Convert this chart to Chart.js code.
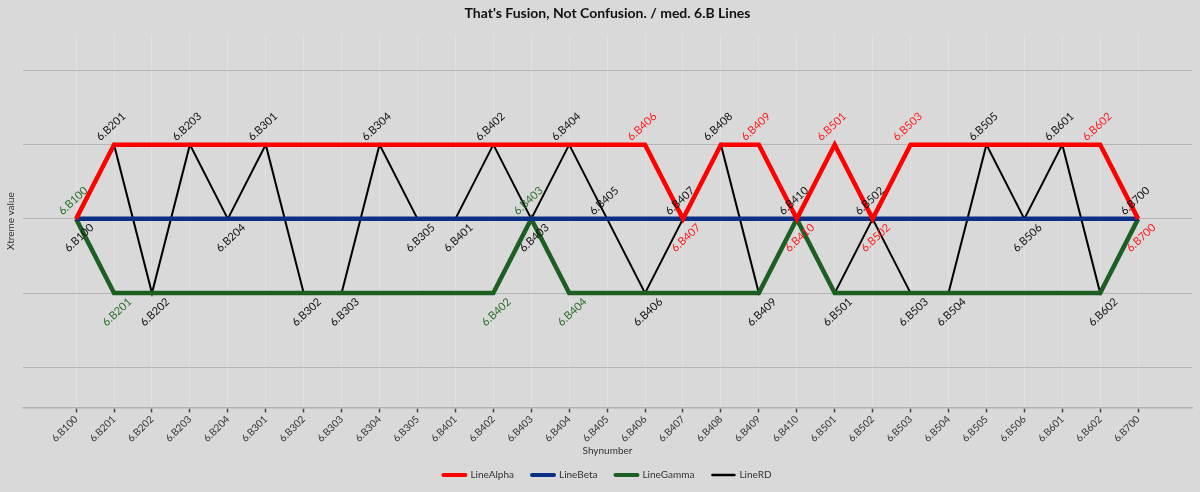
<!DOCTYPE html>
<html>
<head>
<meta charset="utf-8">
<script src="https://cdn.jsdelivr.net/npm/chart.js@4.4.1/dist/chart.umd.min.js"></script>
<style>
  html, body { margin: 0; padding: 0; background: #d9d9d9; }
  #wrap { width: 1200px; height: 492px; position: relative; }
</style>
</head>
<body>
<div id="wrap"><canvas id="c" width="1200" height="492"></canvas></div>
<script>
const categories = ["6.B100","6.B201","6.B202","6.B203","6.B204","6.B301","6.B302","6.B303","6.B304","6.B305",
  "6.B401","6.B402","6.B403","6.B404","6.B405","6.B406","6.B407","6.B408","6.B409","6.B410",
  "6.B501","6.B502","6.B503","6.B504","6.B505","6.B506","6.B601","6.B602","6.B700"];
const seriesNames = ["LineAlpha","LineBeta","LineGamma","LineRD"];
const lineAlpha = [0,1,null,null,null,null,null,null,null,null,null,null,null,null,null,1,0,1,1,0,1,0,1,null,null,null,null,1,0];
const lineBeta  = [0,null,null,null,null,null,null,null,null,null,null,null,null,null,null,null,null,null,null,null,null,null,null,null,null,null,null,null,0];
const lineGamma = [0,-1,null,null,null,null,null,null,null,null,null,-1,0,-1,null,null,null,null,-1,0,-1,null,null,null,null,null,null,-1,0];
const lineRD    = [0,1,-1,1,0,1,-1,-1,1,0,0,1,0,1,0,-1,0,1,-1,0,-1,0,-1,-1,1,0,1,-1,0];
const yGridValues = [-2,-1,0,1,2];
const titleText = "That's Fusion, Not Confusion. / med. 6.B Lines";
const xTitle = "Shynumber";
const yTitle = "Xtreme value";

const FONT = "Lato";

function toPoints(arr) {
  return arr.map((v, i) => v === null ? null : { x: i, y: v }).filter(p => p !== null);
}

const colors = ["#ff0000", "#0b2f84", "#1d5e22", "#000000"];
const labelColors = ["#ff1a1a", null, "#2a6e2a", "#111111"];
const widths = [4.5, 4.5, 4.5, 2];
const seriesData = [lineAlpha, lineBeta, lineGamma, lineRD];

const datasets = seriesNames.map((name, k) => ({
  label: name,
  data: toPoints(seriesData[k]),
  borderColor: colors[k],
  backgroundColor: colors[k],
  borderWidth: widths[k],
  pointRadius: 0,
  pointHoverRadius: 0,
  tension: 0,
  spanGaps: true,
  fill: false,
  borderJoinStyle: 'miter'
}));

const pointLabels = {
  id: 'pointLabels',
  afterDatasetsDraw(chart) {
    const ctx = chart.ctx;
    const order = [0, 2, 3];
    const items = [];
    order.forEach(di => {
      const meta = chart.getDatasetMeta(di);
      const pts = chart.data.datasets[di].data;
      meta.data.forEach((el, j) => {
        const v = pts[j].y;
        const prev = j > 0 ? pts[j - 1].y : null;
        const next = j < pts.length - 1 ? pts[j + 1].y : null;
        let below;
        if (v < 0) below = true;
        else if (v > 0) below = false;
        else below = (prev === null || v <= prev) && (next === null || v <= next);
        items.push({ di, x: el.x, y: el.y, text: categories[pts[j].x], below });
      });
    });
    ctx.save();
    ctx.font = "11px " + FONT;
    ctx.textAlign = 'center';
    ctx.textBaseline = 'middle';
    items.forEach((it, k) => {
      const covered = items.some((o, m) => m > k && o.text === it.text && o.below === it.below && Math.abs(o.y - it.y) < 1);
      if (covered) return;
      ctx.fillStyle = labelColors[it.di];
      const cx = it.x + (it.below ? 3 : -3);
      const cy = it.y + (it.below ? 19 : -18);
      ctx.save();
      ctx.translate(cx, cy);
      ctx.rotate(-43 * Math.PI / 180);
      ctx.fillText(it.text, 0, 0);
      ctx.restore();
    });
    ctx.restore();
  }
};

const bg = {
  id: 'bg',
  beforeDraw(chart) {
    const ctx = chart.ctx;
    ctx.save();
    ctx.fillStyle = '#d9d9d9';
    ctx.fillRect(0, 0, chart.width, chart.height);
    ctx.restore();
  }
};

new Chart(document.getElementById('c'), {
  type: 'line',
  data: { datasets },
  plugins: [bg, pointLabels],
  options: {
    responsive: false,
    animation: false,
    events: [],
    layout: { padding: { left: 0, right: 8, top: 0, bottom: 2 } },
    plugins: {
      title: {
        display: true,
        fullSize: false,
        text: titleText,
        color: '#111',
        font: { family: FONT, size: 14, weight: 'bold' },
        padding: { top: 5, bottom: 13 }
      },
      legend: {
        position: 'bottom',
        fullSize: false,
        labels: {
          color: '#333',
          font: { family: FONT, size: 10 },
          usePointStyle: true,
          pointStyle: 'line',
          pointStyleWidth: 22,
          boxHeight: 10,
          padding: 18,
          generateLabels(chart) {
            const items = Chart.defaults.plugins.legend.labels.generateLabels(chart);
            items.forEach(it => { it.lineCap = 'round'; it.pointStyle = 'line'; it.lineWidth = it.datasetIndex === 3 ? 2.5 : 4; });
            return items;
          }
        }
      },
      tooltip: { enabled: false }
    },
    scales: {
      x: {
        type: 'linear',
        min: -1.4,
        max: 29.42,
        afterBuildTicks(scale) {
          scale.ticks = categories.map((_, i) => ({ value: i }));
        },
        afterFit(scale) {
          scale.height = 44.6;
        },
        ticks: {
          autoSkip: false,
          minRotation: 45,
          maxRotation: 45,
          color: '#333',
          font: { family: FONT, size: 10 },
          padding: 1,
          callback(value) { return categories[value]; }
        },
        grid: {
          color: 'rgba(255,255,255,0.22)',
          tickColor: '#444',
          tickLength: 5,
          tickWidth: 1.5,
          lineWidth: 1
        },
        border: { display: true, color: '#b3b3b3', width: 1.5 },
        title: {
          display: true,
          text: xTitle,
          color: '#333',
          font: { family: FONT, size: 10 },
          padding: { top: 0, bottom: -5 }
        }
      },
      y: {
        type: 'linear',
        min: -2.54,
        max: 2.48,
        afterBuildTicks(scale) {
          scale.ticks = yGridValues.map(v => ({ value: v }));
        },
        ticks: { display: false },
        grid: {
          drawTicks: false,
          color: '#b5b5b5',
          lineWidth: 1
        },
        border: { display: false },
        title: {
          display: true,
          text: yTitle,
          color: '#333',
          font: { family: FONT, size: 10 },
          padding: { top: 5, bottom: 6 }
        }
      }
    }
  }
});
</script>
</body>
</html>
